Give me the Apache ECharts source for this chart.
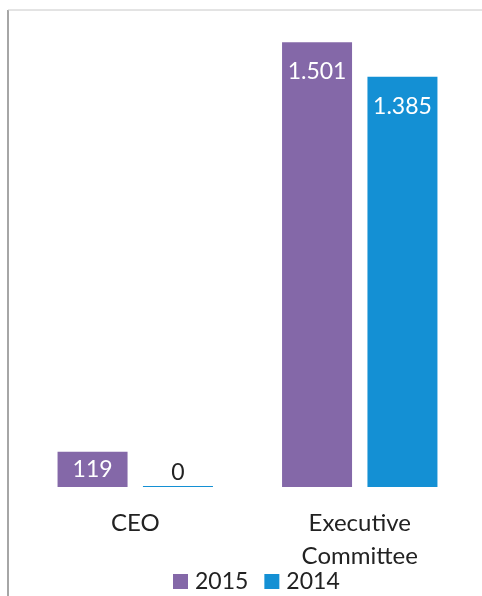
<!DOCTYPE html>
<html>
<head>
<meta charset="utf-8">
<script src="https://cdn.jsdelivr.net/npm/echarts@6/dist/echarts.min.js"></script>
<style>
html,body{margin:0;padding:0;background:#fff;}
#main{width:482px;height:596px;}
</style>
</head>
<body>
<div id="main"></div>
<script>
const categories = ['CEO', 'Executive\nCommittee'];
const seriesNames = ['2015', '2014'];
const values2015 = [119, 1501];
const values2014 = [0, 1385];
const colors = ['#8468a8', '#1490d4'];

function fmt(v) {
  return v >= 1000 ? Math.floor(v / 1000) + '.' + String(v % 1000).padStart(3, '0') : String(v);
}
function toData(arr) {
  return arr.map(v => {
    let label;
    if (v === 0) label = { position: 'top', distance: 2, color: '#222' };
    else if (v < 300) label = { position: 'inside', color: '#fff' };
    else label = { position: 'insideTop', distance: 18, color: '#fff' };
    return { value: v, label };
  });
}
const font = 'Lato, "Open Sans", sans-serif';
const chart = echarts.init(document.getElementById('main'));
chart.setOption({
  animation: false,
  backgroundColor: '#fff',
  grid: { left: 23, right: 10, top: 13, bottom: 109 },
  xAxis: {
    type: 'category',
    data: categories,
    axisLine: { show: false },
    axisTick: { show: false },
    axisLabel: { fontSize: 24, color: '#222', margin: 20, lineHeight: 33, fontFamily: font }
  },
  yAxis: { type: 'value', min: 0, max: 1600, show: false, splitLine: { show: false } },
  legend: {
    left: 168, top: 565,
    icon: 'rect',
    itemWidth: 15, itemHeight: 15, itemGap: 16,
    textStyle: { fontSize: 23, color: '#222', fontFamily: font, padding: [0, 0, 0, 2] },
    data: seriesNames
  },
  graphic: [
    { type: 'line', shape: { x1: 8, y1: 10, x2: 8, y2: 596 }, style: { stroke: '#888', lineWidth: 1.5 } },
    { type: 'line', shape: { x1: 8, y1: 10, x2: 482, y2: 10 }, style: { stroke: '#c8c8c8', lineWidth: 1 } }
  ],
  series: [
    {
      name: seriesNames[0], type: 'bar', data: toData(values2015),
      itemStyle: { color: colors[0] }, barWidth: 70, barGap: '22%', barMinHeight: 1,
      label: { show: true, fontSize: 23, fontFamily: font, formatter: p => fmt(p.value) }
    },
    {
      name: seriesNames[1], type: 'bar', data: toData(values2014),
      itemStyle: { color: colors[1] }, barWidth: 70, barMinHeight: 1,
      label: { show: true, fontSize: 23, fontFamily: font, formatter: p => fmt(p.value) }
    }
  ]
});
</script>
</body>
</html>
